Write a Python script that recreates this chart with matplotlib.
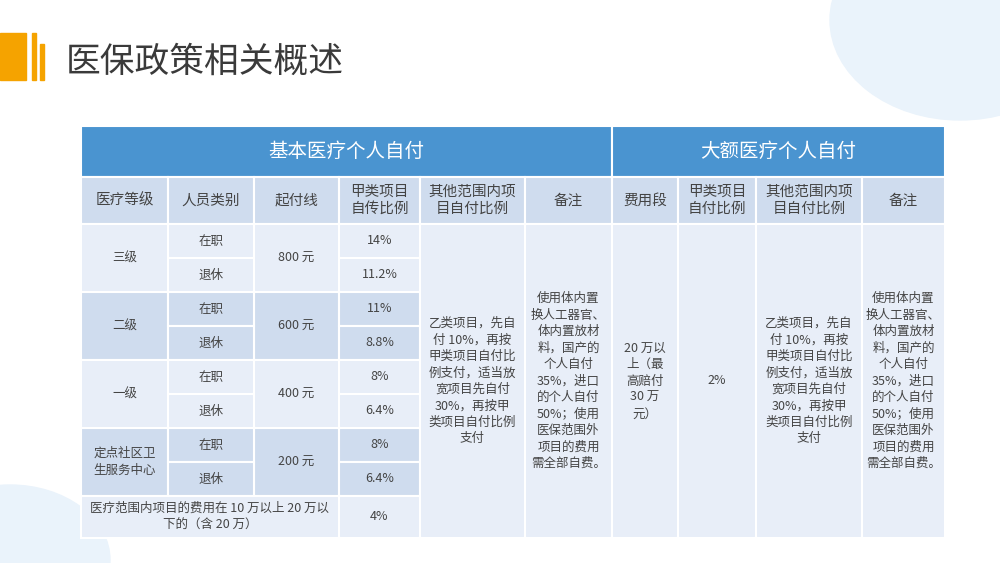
import matplotlib
matplotlib.use("Agg")
import matplotlib.pyplot as plt
from matplotlib.patches import Rectangle, Ellipse

plt.rcParams['font.family'] = ['Noto Sans CJK SC', 'DejaVu Sans']

title = "医保政策相关概述"
group_headers = ["基本医疗个人自付", "大额医疗个人自付"]
col_headers = ["医疗等级", "人员类别", "起付线", "甲类项目\n自传比例", "其他范围内项\n目自付比例", "备注",
               "费用段", "甲类项目\n自付比例", "其他范围内项\n目自付比例", "备注"]
grades = ["三级", "二级", "一级", "定点社区卫\n生服务中心"]
staff = ["在职", "退休"]
thresholds = ["800 元", "600 元", "400 元", "200 元"]
ratios = ["14%", "11.2%", "11%", "8.8%", "8%", "6.4%", "8%", "6.4%"]
last_row_label = "医疗范围内项目的费用在 10 万以上 20 万以\n下的（含 20 万）"
last_row_ratio = "4%"
other_ratio = "乙类项目，先自\n付 10%，再按\n甲类项目自付比\n例支付，适当放\n宽项目先自付\n30%，再按甲\n类项目自付比例\n支付"
note = "使用体内置\n换人工器官、\n体内置放材\n料，国产的\n个人自付\n35%，进口\n的个人自付\n50%；使用\n医保范围外\n项目的费用\n需全部自费。"
big_segment = "20 万以\n上（最\n高赔付\n30 万\n元）"
big_ratio = "2%"

fig = plt.figure(figsize=(10, 5.63), dpi=100)
ax = fig.add_axes([0, 0, 1, 1])
ax.set_xlim(0, 1000); ax.set_ylim(563, 0); ax.axis('off')

# decorations
ax.add_patch(Ellipse((960, 20), 260, 200, color='#eaf3fb', zorder=0))
ax.add_patch(Ellipse((10, 560), 200, 150, color='#eaf3fb', zorder=0))
ax.add_patch(Rectangle((0, 33), 26, 47, color='#f5a300'))
ax.add_patch(Rectangle((32, 33), 4, 47, color='#f5a300'))
ax.add_patch(Rectangle((40, 44), 4, 36, color='#f5a300'))
ax.text(66, 62, title, fontsize=25, color='#3a3a3a', va='center', ha='left')

X = [81, 168, 254, 339, 420, 525, 612, 678, 756, 862, 945]
Y = [224, 258, 292, 326, 360, 394, 428, 462, 496, 538]
DARK = '#4a94d0'; MID = '#cfdcee'; LIGHT = '#e8eef8'; TXT = '#444444'

def cell(x0, y0, x1, y1, color, text='', fs=9, tc=TXT, ls=1.5):
    ax.add_patch(Rectangle((x0, y0), x1 - x0, y1 - y0, facecolor=color, edgecolor='white', lw=1.5))
    if text:
        ax.text((x0 + x1) / 2, (y0 + y1) / 2, text, ha='center', va='center', fontsize=fs,
                color=tc, linespacing=ls)

cell(X[0], 126, X[6], 177, DARK, group_headers[0], 14, 'white')
cell(X[6], 126, X[10], 177, DARK, group_headers[1], 14, 'white')
for i, h in enumerate(col_headers):
    cell(X[i], 177, X[i + 1], Y[0], MID, h, 10.5, TXT, 1.3)

for g in range(4):
    col = LIGHT if g % 2 == 0 else MID
    y0, y1 = Y[2 * g], Y[2 * g + 2]
    cell(X[0], y0, X[1], y1, col, grades[g], 9, TXT, 1.4)
    cell(X[2], y0, X[3], y1, col, thresholds[g], 9)
    for s in range(2):
        cell(X[1], Y[2 * g + s], X[2], Y[2 * g + s + 1], col, staff[s], 9)
        cell(X[3], Y[2 * g + s], X[4], Y[2 * g + s + 1], col, ratios[2 * g + s], 9)
cell(X[0], Y[8], X[3], Y[9], LIGHT, last_row_label, 9, TXT, 1.4)
cell(X[3], Y[8], X[4], Y[9], LIGHT, last_row_ratio, 9)
for i, t in zip(range(4, 10), [other_ratio, note, big_segment, big_ratio, other_ratio, note]):
    cell(X[i], Y[0], X[i + 1], Y[9], LIGHT, t, 9, TXT, 1.35)

fig.savefig('out.png', dpi=100, facecolor='white')
